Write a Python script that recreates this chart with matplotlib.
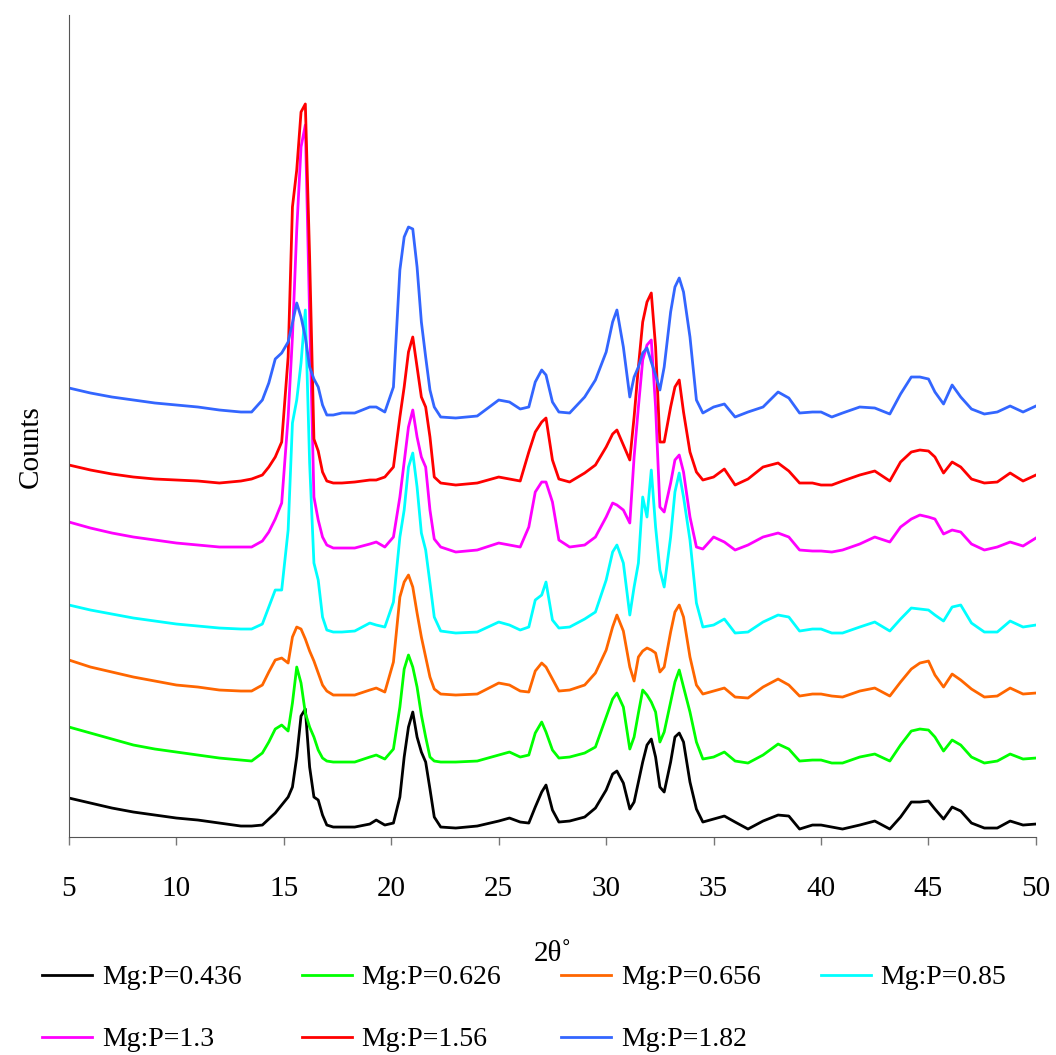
import numpy as np
from matplotlib import pyplot as plt

two_theta = [5, 6, 7, 8, 9, 10, 11, 12, 13, 13.5,
             14, 14.3, 14.6, 14.9, 15.2, 15.4, 15.6, 15.8, 16.0, 16.2,
             16.4, 16.6, 16.8, 17.0, 17.3, 17.7, 18.3, 19.0, 19.3, 19.7,
             20.1, 20.4, 20.6, 20.8, 21.0, 21.2, 21.4, 21.6, 21.8, 22.0,
             22.3, 23, 24, 25, 25.5, 26, 26.4, 26.7, 27.0, 27.2,
             27.5, 27.8, 28.3, 29, 29.5, 30.0, 30.3, 30.5, 30.8, 31.1,
             31.3, 31.5, 31.7, 31.9, 32.1, 32.3, 32.5, 32.7, 33.0, 33.2,
             33.4, 33.6, 33.9, 34.2, 34.5, 35, 35.5, 36, 36.6, 37.3,
             38, 38.5, 39, 39.6, 40, 40.5, 41, 41.8, 42.5, 43.2,
             43.7, 44.2, 44.6, 45.0, 45.3, 45.7, 46.1, 46.5, 47, 47.6,
             48.2, 48.8, 49.4, 50]

# counts (stacked patterns, arbitrary units)
counts_0436 = [39, 34, 29, 25, 22, 19, 17, 14, 11, 11,
               12, 18, 24, 32, 40, 50, 80, 121, 128, 70,
               40, 37, 22, 12, 10, 10, 10, 13, 17, 12,
               14, 40, 80, 110, 125, 100, 85, 75, 48, 20,
               10, 9, 11, 16, 19, 15, 14, 30, 45, 52,
               27, 15, 16, 20, 29, 47, 63, 66, 54, 28,
               35, 55, 75, 92, 98, 80, 50, 45, 75, 100,
               104, 95, 55, 28, 15, 18, 21, 15, 8, 16,
               22, 21, 8, 12, 12, 10, 8, 12, 16, 8,
               20, 35, 35, 36, 28, 18, 30, 26, 14, 9,
               9, 16, 12, 13]
counts_0626 = [110, 104, 98, 92, 88, 85, 82, 79, 77, 76,
               84, 95, 108, 112, 106, 134, 170, 154, 124, 110,
               100, 87, 79, 76, 75, 75, 75, 80, 82, 78,
               88, 130, 168, 182, 170, 150, 122, 100, 80, 76,
               75, 75, 76, 82, 85, 80, 82, 104, 115, 105,
               87, 79, 80, 84, 90, 120, 138, 144, 130, 88,
               100, 124, 147, 142, 135, 125, 95, 105, 135, 155,
               167, 150, 125, 95, 78, 80, 85, 76, 74, 82,
               93, 88, 76, 77, 77, 74, 74, 80, 83, 76,
               92, 106, 108, 107, 100, 86, 97, 92, 80, 74,
               76, 83, 78, 79]
counts_0656 = [177, 170, 165, 160, 156, 152, 150, 147, 146, 146,
               152, 165, 177, 179, 174, 200, 210, 208, 198, 186,
               176, 164, 152, 146, 142, 142, 142, 147, 149, 145,
               175, 240, 255, 262, 250, 224, 200, 180, 160, 148,
               143, 142, 143, 154, 152, 146, 145, 166, 174, 170,
               158, 146, 147, 152, 164, 187, 210, 222, 206, 170,
               156, 180, 186, 189, 187, 184, 165, 170, 205, 225,
               232, 220, 180, 152, 143, 146, 149, 140, 139, 150,
               158, 152, 141, 143, 143, 141, 140, 146, 149, 141,
               155, 168, 174, 176, 162, 150, 163, 157, 148, 140,
               141, 149, 143, 144]
counts_085 = [232, 227, 223, 219, 216, 213, 211, 209, 208, 208,
              213, 230, 247, 247, 307, 414, 437, 474, 527, 374,
              274, 257, 220, 207, 205, 205, 206, 214, 212, 210,
              235, 300, 327, 370, 384, 350, 304, 287, 254, 220,
              206, 204, 205, 215, 212, 207, 210, 237, 242, 255,
              217, 209, 210, 218, 225, 257, 285, 292, 274, 222,
              250, 274, 340, 320, 367, 310, 267, 250, 300, 345,
              364, 340, 297, 234, 210, 212, 218, 204, 205, 215,
              222, 220, 206, 208, 208, 204, 204, 210, 215, 206,
              218, 229, 228, 227, 222, 216, 230, 232, 214, 205,
              205, 216, 210, 212]
counts_13 = [315, 309, 304, 300, 297, 294, 292, 290, 290, 290,
             296, 305, 318, 334, 420, 500, 607, 690, 712, 520,
             340, 317, 300, 292, 289, 289, 289, 293, 295, 290,
             300, 340, 375, 410, 427, 400, 380, 370, 327, 298,
             290, 285, 287, 294, 292, 290, 310, 345, 355, 355,
             335, 297, 290, 292, 300, 320, 334, 332, 327, 314,
             380, 430, 477, 492, 497, 430, 330, 325, 354, 377,
             382, 365, 320, 290, 288, 300, 295, 287, 292, 300,
             304, 300, 287, 286, 286, 285, 287, 293, 300, 295,
             310, 318, 322, 320, 318, 303, 307, 305, 293, 287,
             290, 295, 291, 299]
counts_156 = [372, 367, 363, 360, 358, 357, 356, 354, 356, 358,
              362, 370, 380, 395, 480, 630, 667, 725, 733, 580,
              398, 386, 365, 356, 354, 354, 355, 357, 357, 360,
              370, 420, 450, 485, 500, 470, 440, 430, 400, 360,
              354, 352, 354, 360, 358, 356, 385, 405, 415, 419,
              377, 358, 355, 364, 372, 390, 403, 407, 392, 377,
              420, 470, 515, 535, 544, 490, 395, 395, 430, 450,
              457, 425, 385, 365, 357, 360, 368, 352, 358, 370,
              374, 366, 354, 354, 352, 352, 356, 362, 366, 356,
              375, 385, 387, 386, 380, 364, 375, 370, 358, 354,
              355, 364, 356, 362]
counts_182 = [449, 444, 440, 437, 434, 432, 430, 427, 425, 425,
              437, 454, 478, 484, 495, 514, 534, 520, 500, 470,
              458, 450, 432, 422, 422, 424, 424, 430, 430, 425,
              450, 567, 600, 610, 608, 570, 515, 480, 447, 430,
              420, 419, 421, 437, 435, 428, 430, 455, 467, 462,
              435, 425, 424, 440, 457, 485, 515, 527, 490, 440,
              460, 470, 484, 489, 475, 462, 447, 470, 525, 550,
              559, 545, 500, 437, 424, 430, 433, 420, 425, 430,
              445, 439, 424, 425, 425, 420, 424, 430, 429, 423,
              443, 460, 460, 458, 445, 433, 452, 440, 428, 423,
              425, 431, 425, 431]

labels = ['Mg:P=0.436', 'Mg:P=0.626', 'Mg:P=0.656', 'Mg:P=0.85',
          'Mg:P=1.3', 'Mg:P=1.56', 'Mg:P=1.82']
colors = ['#000000', '#00FF00', '#FF6600', '#00FFFF',
          '#FF00FF', '#FF0000', '#3366FF']
series = [counts_0436, counts_0626, counts_0656, counts_085,
          counts_13, counts_156, counts_182]

plt.rcParams['font.family'] = ['Liberation Serif', 'DejaVu Serif']

fig = plt.figure(figsize=(10.56, 10.55), dpi=100)
ax = fig.add_axes([0.0653, 0.2066, 0.9157, 0.7792])

lines = []
for y, lab, col in zip(series, labels, colors):
    ln, = ax.plot(two_theta, y, color=col, lw=2.0, label=lab)
    lines.append(ln)

ax.set_xlim(5, 50)
ax.set_ylim(0, 822)
ax.set_xticks(np.arange(5, 51, 5))
ax.set_yticks([])
ax.tick_params(axis='x', direction='out', length=6, width=1, color='#777777',
               labelsize=21, pad=22)
for s in ['top', 'right']:
    ax.spines[s].set_visible(False)
ax.spines['left'].set_color('#555555')
ax.spines['bottom'].set_color('#555555')

ax.set_xlabel('2θ˚', fontsize=21)
ax.xaxis.set_label_coords(0.5005, -0.127)
ax.set_ylabel('Counts', fontsize=21)
ax.yaxis.set_label_coords(-0.026, 0.4745)

# legend: 2 rows x 4 columns, filled row by row
order = [0, 4, 1, 5, 2, 6, 3]
fig.legend([lines[i] for i in order], [labels[i] for i in order],
           loc='upper left', bbox_to_anchor=(0.040, 0.0855), ncol=4,
           frameon=False, fontsize=20, handlelength=1.8, handletextpad=0.35,
           columnspacing=2.16, labelspacing=1.32, borderpad=0, borderaxespad=0)

fig.savefig('out.png', dpi=100)
